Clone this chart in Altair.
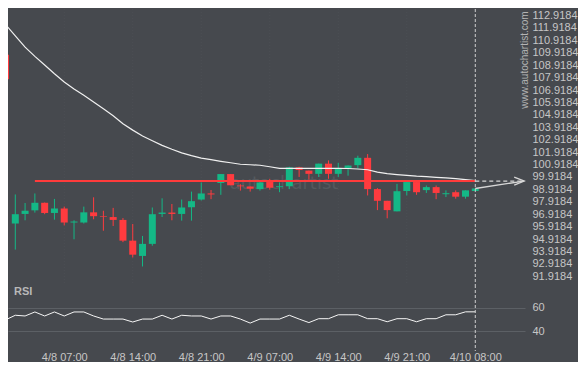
import altair as alt
import pandas as pd

# ---------------- data ----------------
idx = list(range(-1, 48))
opens = [109.76, 96.17, 96.94, 97.23, 97.84, 97.02, 97.38, 96.25, 96.25, 97.07,
         96.76, 96.69, 96.46, 94.79, 93.56, 94.53, 96.94, 97.05, 96.94, 97.48,
         98.10, 98.59, 99.43, 100.15, 99.23, 99.15, 98.94, 99.51, 99.10, 99.17,
         100.69, 100.43, 100.17, 100.99, 100.17, 100.61, 100.87, 101.46, 98.94, 98.00,
         97.15, 98.79, 99.51, 98.86, 99.10, 98.53, 98.69, 98.33, 98.79]
highs = [109.76, 98.51, 97.82, 98.59, 97.86, 98.15, 97.53, 96.43, 97.53, 98.28,
         97.20, 97.43, 96.61, 96.13, 95.17, 97.46, 98.20, 97.74, 98.10, 98.74,
         99.48, 98.87, 100.15, 100.15, 99.33, 99.15, 99.53, 99.77, 99.48, 100.74,
         100.74, 100.43, 100.99, 101.25, 101.05, 100.84, 101.63, 101.76, 99.02, 98.00,
         99.36, 99.51, 99.51, 99.23, 99.23, 98.84, 98.84, 98.84, 98.99]
lows = [107.79, 94.07, 96.43, 97.05, 96.92, 96.48, 96.02, 94.90, 96.17, 96.51,
        95.59, 95.97, 94.67, 93.43, 92.71, 94.38, 96.69, 96.43, 96.40, 96.40,
        98.02, 98.13, 98.48, 99.25, 98.82, 98.74, 98.82, 98.90, 98.69, 98.94,
        99.92, 99.71, 99.92, 99.77, 99.92, 100.02, 100.61, 98.43, 97.25, 96.59,
        97.15, 98.43, 98.48, 98.63, 98.13, 98.30, 98.17, 98.17, 98.79]
closes = [107.79, 96.92, 97.20, 97.84, 97.02, 97.38, 96.25, 96.33, 97.07, 96.76,
          96.71, 96.46, 94.79, 93.66, 94.53, 96.92, 97.05, 96.94, 97.46, 97.97,
          98.59, 98.51, 100.15, 99.25, 99.17, 98.97, 99.48, 99.05, 99.17, 100.69,
          100.48, 100.17, 100.99, 100.17, 100.59, 100.84, 101.46, 98.94, 98.00, 97.25,
          98.77, 99.51, 98.69, 99.10, 98.63, 98.61, 98.33, 98.84, 98.99]
ma = [112.19, 111.28, 110.37, 109.63, 108.93, 108.23, 107.57, 107.01, 106.49, 105.96,
      105.41, 104.85, 104.20, 103.69, 103.21, 102.83, 102.46, 102.15, 101.86, 101.64,
      101.44, 101.31, 101.18, 101.06, 100.94, 100.90, 100.86, 100.74, 100.61, 100.61,
      100.61, 100.61, 100.61, 100.61, 100.61, 100.60, 100.56, 100.50, 100.31, 100.18,
      100.11, 100.05, 99.98, 99.94, 99.89, 99.84, 99.78, 99.70, 99.63]
rsi = [49.7, 53.6, 53.0, 56.4, 53.0, 56.4, 53.0, 56.4, 56.4, 53.0,
       50.4, 50.4, 50.4, 47.9, 50.4, 50.4, 53.6, 50.4, 53.6, 53.0,
       53.0, 50.4, 53.0, 53.0, 50.4, 47.0, 50.4, 50.4, 50.4, 53.6,
       50.4, 47.4, 50.7, 50.7, 54.0, 54.0, 54.0, 50.7, 50.7, 48.1,
       50.7, 50.7, 48.1, 50.7, 50.7, 54.0, 54.0, 56.5, 56.5]

level = 99.59
level_start = 2
last_idx = 47
arrow_end = 52

tick_pos = [5, 12, 19, 26, 33, 40, 47]
tick_labels = ["4/8 07:00", "4/8 14:00", "4/8 21:00", "4/9 07:00",
               "4/9 14:00", "4/9 21:00", "4/10 08:00"]
price_ticks = [91.9184, 92.9184, 93.9184, 94.9184, 95.9184, 96.9184, 97.9184,
               98.9184, 99.9184, 100.9184, 101.9184, 102.9184, 103.9184, 104.9184,
               105.9184, 106.9184, 107.9184, 108.9184, 109.9184, 110.9184,
               111.9184, 112.9184]
rsi_ticks = [40, 60]

# ---------------- styling ----------------
BG = "#46494e"
GREEN = "#14b886"
RED = "#ff3b3f"
LABEL = "#c6c6c6"
W, H1, H2 = 517, 276, 52

candles = pd.DataFrame({"i": idx, "o": opens, "h": highs, "l": lows, "c": closes})
candles["dir"] = ["up" if c >= o else "down" for o, c in zip(opens, closes)]
ma_df = pd.DataFrame({"i": idx, "ma": ma})
rsi_df = pd.DataFrame({"i": idx, "rsi": rsi})
level_df = pd.DataFrame({"a": [level_start], "b": [last_idx], "y": [level]})
ext_df = pd.DataFrame({"a": [last_idx], "b": [arrow_end], "y": [level]})
proj_df = pd.DataFrame({"i": [last_idx, arrow_end], "y": [closes[-1], level]})
head_df = pd.DataFrame({"i": [arrow_end], "y": [level]})
now_df = pd.DataFrame({"i": [last_idx]})
grid_df = pd.DataFrame({"i": tick_pos})

xscale = alt.Scale(domain=[-0.746, 52.08], nice=False, zero=False, padding=0)
yscale = alt.Scale(domain=[91.2195, 113.4418], nice=False, zero=False, padding=0)
yax = alt.Axis(orient="right", values=price_ticks, format=".4f", labelPadding=7,
               ticks=False, domain=False, grid=False, title=None,
               labelFontSize=11, labelColor=LABEL, labelOverlap=False)

X = alt.X("i:Q", scale=xscale, axis=None, title=None)
color = alt.Color("dir:N", scale=alt.Scale(domain=["up", "down"], range=[GREEN, RED]), legend=None)

def Y(field):
    return alt.Y(field, type="quantitative", scale=yscale, axis=yax, title=None)

wm = alt.Chart(pd.DataFrame({"t": ["autochartist"]})).mark_text(
    font="DejaVu Sans", fontSize=18, color="#55595e", align="center", baseline="middle"
).encode(text="t:N", x=alt.value(276), y=alt.value(175))

wm2 = alt.Chart(pd.DataFrame({"t": ["www.autochartist.com"]})).mark_text(
    font="Liberation Sans", fontSize=10, color="#b4b4b4", angle=270,
    align="center", baseline="middle"
).encode(text="t:N", x=alt.value(517), y=alt.value(51))

vgrid = alt.Chart(grid_df).mark_rule(color="#4c4f54", strokeWidth=1, strokeDash=[1, 2]).encode(x=X)

wicks = alt.Chart(candles).mark_rule(strokeWidth=1, clip=True).encode(
    x=X, y=Y("l"), y2="h", color=color)
bodies = alt.Chart(candles).mark_bar(size=7, clip=True).encode(
    x=X, y=Y("o"), y2="c", color=color)
ma_line = alt.Chart(ma_df).mark_line(color="#f0f0f0", strokeWidth=1.2, clip=True).encode(
    x=X, y=Y("ma"))
level_rule = alt.Chart(level_df).mark_rule(color="#ff3b3b", strokeWidth=2).encode(
    x=alt.X("a:Q", scale=xscale, axis=None, title=None), x2="b", y=Y("y"))
ext_rule = alt.Chart(ext_df).mark_rule(color="#d6d6d6", strokeWidth=1.3, strokeDash=[4, 3]).encode(
    x=alt.X("a:Q", scale=xscale, axis=None, title=None), x2="b", y=Y("y"))
proj = alt.Chart(proj_df).mark_line(color="#d6d6d6", strokeWidth=1.3).encode(x=X, y=Y("y"))
head = alt.Chart(head_df).mark_point(
    shape="M-1,-0.4L0,0L-1,0.4", size=400, filled=False, color="#d6d6d6", strokeWidth=1.3, opacity=1
).encode(x=X, y=Y("y"))
now_rule = alt.Chart(now_df).mark_rule(color="#cfcfcf", strokeWidth=1, strokeDash=[3, 2]).encode(
    x=X, y=alt.value(0), y2=alt.value(H1))

price = alt.layer(wm, vgrid, wicks, bodies, ma_line, level_rule, ext_rule, proj, head,
                  now_rule, wm2).properties(width=W, height=H1)

# ---------------- RSI panel ----------------
label_expr = "".join(f"datum.value == {p} ? '{l}' : " for p, l in zip(tick_pos, tick_labels)) + "''"
xax = alt.Axis(values=tick_pos, labelExpr=label_expr, ticks=False, domain=False,
               grid=False, labelPadding=6, labelFontSize=11, labelColor=LABEL,
               labelFlush=False, labelOverlap=False, title=None)
Xr = alt.X("i:Q", scale=xscale, title=None, axis=xax)
rscale = alt.Scale(domain=[28.44, 72.44], nice=False, zero=False, padding=0)
rax = alt.Axis(orient="right", values=rsi_ticks, ticks=False, domain=False, grid=True,
               gridColor="#5c6065", gridWidth=1, labelPadding=7, labelFontSize=11,
               labelColor=LABEL, title=None)

rsi_line = alt.Chart(rsi_df).mark_line(color="#f5f5f5", strokeWidth=1, clip=True).encode(
    x=Xr, y=alt.Y("rsi:Q", scale=rscale, axis=rax, title=None))
rsi_title = alt.Chart(pd.DataFrame({"t": ["RSI"]})).mark_text(
    font="Liberation Sans", fontSize=11, fontWeight="bold", color="#b8b8b8",
    align="left", baseline="middle"
).encode(text="t:N", x=alt.value(6), y=alt.value(-1))
now_rule2 = alt.Chart(now_df).mark_rule(color="#cfcfcf", strokeWidth=1, strokeDash=[3, 2]).encode(
    x=Xr, y=alt.value(-8), y2=alt.value(58))

rsi_panel = alt.layer(rsi_line, now_rule2, rsi_title).properties(width=W, height=H2)

chart = alt.vconcat(price, rsi_panel, spacing=8, bounds="flush").properties(
    background=BG, padding=0
).configure_view(stroke=None).configure_axis(labelFont="Liberation Sans")

chart.save("out.html", embed_options={"renderer": "svg", "actions": False})
